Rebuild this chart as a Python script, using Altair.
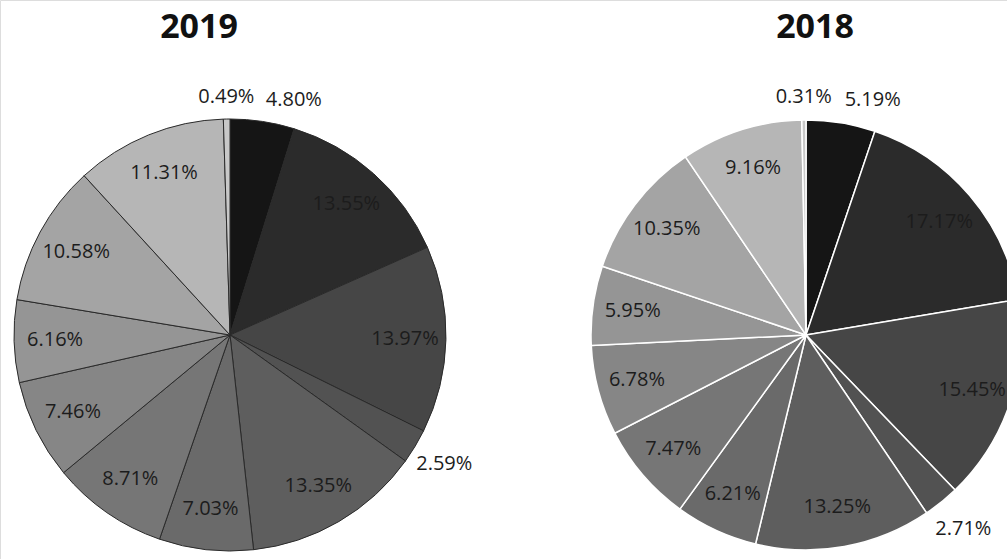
import math
import altair as alt
import pandas as pd

# Share of each segment, clockwise from 12 o'clock
years = ["2019", "2018"]
segments = ["seg01", "seg02", "seg03", "seg04", "seg05", "seg06",
            "seg07", "seg08", "seg09", "seg10", "seg11", "seg12"]
share_2019 = [4.80, 13.55, 13.97, 2.59, 13.35, 7.03, 8.71, 7.46, 6.16, 10.58, 11.31, 0.49]
share_2018 = [5.19, 17.17, 15.45, 2.71, 13.25, 6.21, 7.47, 6.78, 5.95, 10.35, 9.16, 0.31]

# Grey ramp from darkest (first segment) to lightest (last)
greys = ["#151515", "#2b2b2b", "#464646", "#525252", "#5e5e5e", "#6a6a6a",
         "#767676", "#868686", "#959595", "#a4a4a4", "#b6b6b6", "#c8c8c8"]

rows = []
for year, shares in zip(years, [share_2019, share_2018]):
    cum = 0.0
    for seg, v in zip(segments, shares):
        mid = cum + v / 2
        s = math.sin(mid / 100 * 2 * math.pi)
        if v >= 5.5:
            place = "inside"
        elif 0.1 < s < 0.5:
            place = "out_left"
        elif -0.5 < s < -0.1:
            place = "out_right"
        elif abs(s) <= 0.1:
            place = "out_top"
        else:
            place = "out_side"
        rows.append({"year": year, "segment": seg, "share": v,
                     "start": cum, "end": cum + v, "mid": mid,
                     "label": f"{v:.2f}%", "place": place})
        cum += v
df = pd.DataFrame(rows)

CX = [230, 806]          # pie centres across the canvas
CY = 335
R = 216

x_pie = alt.X("year:N", axis=None,
              scale=alt.Scale(type="point", domain=years, range=CX, padding=0))
theta_scale = alt.Scale(domain=[0, 100], range=[0, 2 * math.pi])
colour = alt.Color("segment:N", legend=None,
                   scale=alt.Scale(domain=segments, range=greys))

base = alt.Chart(df)

arcs_2019 = base.transform_filter(alt.datum.year == "2019").mark_arc(
    radius=R, stroke="#2a2a2a", strokeWidth=1
).encode(
    x=x_pie, y=alt.value(CY),
    theta=alt.Theta("start:Q", scale=theta_scale), theta2="end:Q",
    color=colour,
)

arcs_2018 = base.transform_filter(alt.datum.year == "2018").mark_arc(
    radius=R - 1, stroke="white", strokeWidth=1.5
).encode(
    x=x_pie, y=alt.value(CY),
    theta=alt.Theta("start:Q", scale=theta_scale), theta2="end:Q",
    color=colour,
)

label_font = dict(font="Open Sans", fontSize=20, color="#1c1c1c", baseline="middle")


def label_layer(place, radius, align):
    return base.transform_filter(alt.datum.place == place).mark_text(
        radius=radius, align=align, **label_font
    ).encode(
        x=x_pie, y=alt.value(CY),
        theta=alt.Theta("mid:Q", scale=theta_scale),
        text="label:N",
    )


inside = label_layer("inside", 175, "center")
out_l = label_layer("out_left", 238, "left")
out_r = label_layer("out_right", 238, "right")
out_t = label_layer("out_top", 238, "center")
out_s = label_layer("out_side", 250, "center")

titles = alt.Chart(pd.DataFrame({"year": years})).mark_text(
    font="Open Sans", fontSize=34, fontWeight="bold", color="#111111",
    baseline="middle", align="center"
).encode(
    x=alt.X("year:N", axis=None,
            scale=alt.Scale(type="point", domain=years, range=[199, 815], padding=0)),
    y=alt.value(28),
    text="year:N",
)

chart = alt.layer(
    arcs_2019, arcs_2018, inside, out_l, out_r, out_t, out_s, titles
).resolve_scale(
    x="independent"
).properties(
    width=1007, height=559,
    autosize=alt.AutoSizeParams(type="none"),
    padding=0,
).configure_view(stroke=None).configure(background="white")

chart.save("out.html", embed_options={"renderer": "svg", "actions": False})
